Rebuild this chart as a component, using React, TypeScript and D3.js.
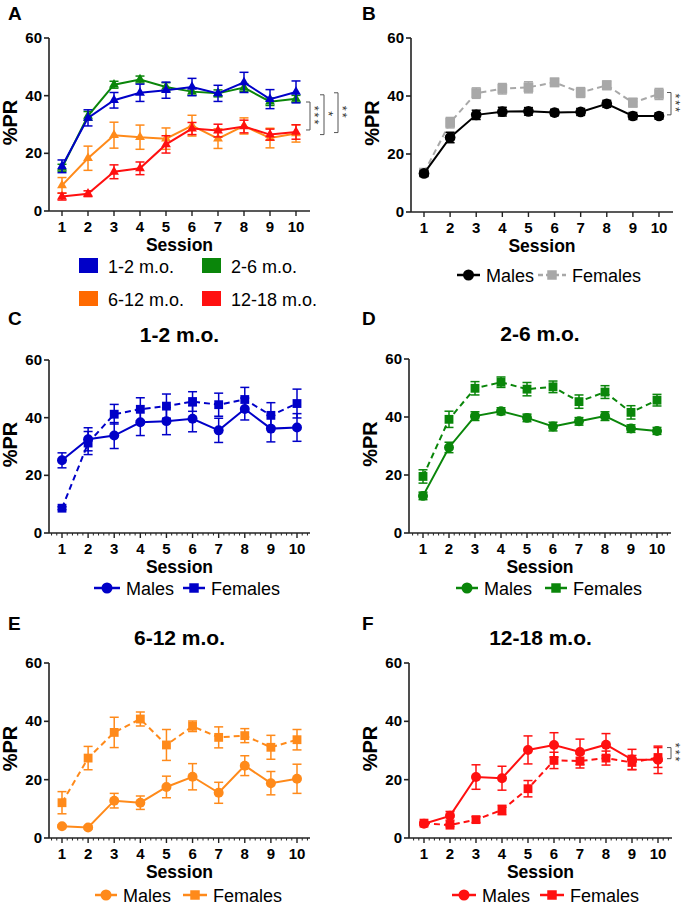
import React from "react";
import * as d3 from "d3";

const sessions = [1, 2, 3, 4, 5, 6, 7, 8, 9, 10];
const yTicks = [0, 20, 40, 60];
const ageGroups = ["1-2 m.o.", "2-6 m.o.", "6-12 m.o.", "12-18 m.o."];
const sexLabels = ["Males", "Females"];

// Panel A: age groups
const age12Mean = [15.5, 32.3, 38.4, 41, 41.9, 43, 40.8, 44.6, 38.8, 41.3];
const age12Sem = [2.2, 2.8, 2.7, 3, 2.8, 3, 2.8, 3.5, 3.3, 3.8];
const age26Mean = [15, 33, 43.8, 45.6, 43, 41.4, 40.8, 42.8, 37.9, 38.9];
const age26Sem = [1.2, 1.5, 1.2, 1.2, 1.5, 1.3, 1.2, 1.3, 1.3, 1.2];
const age612Mean = [8.9, 18.3, 26.3, 25.6, 25.1, 29.6, 25.1, 29.5, 25.3, 26.9];
const age612Sem = [2.7, 4.2, 4.5, 4.2, 3.7, 3.6, 3.4, 2.8, 3.4, 3];
const age1218Mean = [5, 6, 13.6, 14.8, 23.1, 28.6, 27.9, 29.3, 26.5, 27.4];
const age1218Sem = [1.2, 1, 2.4, 2.2, 3, 2.1, 2.2, 2.2, 1.9, 2.5];

// Panel B: all ages by sex
const allMalesMean = [13.3, 25.7, 33.5, 34.6, 34.7, 34.3, 34.5, 37.3, 33.1, 33.1];
const allMalesSem = [1, 1.8, 1.6, 1.5, 1.3, 1.1, 1.2, 1.2, 1.2, 1.1];
const allFemalesMean = [13.6, 30.8, 41, 42.5, 43, 44.7, 41.2, 43.7, 37.7, 40.7];
const allFemalesSem = [1, 1.8, 1.8, 1.8, 1.9, 1.4, 1.7, 1.5, 1.5, 1.9];

// Panel C: 1-2 m.o.
const c12MalesMean = [25.2, 32.5, 33.8, 38.4, 38.8, 39.6, 35.6, 43, 36.2, 36.6];
const c12MalesSem = [2.6, 4, 4.5, 4.6, 4.7, 4.5, 4.2, 3.8, 4.6, 4.8];
const c12FemalesMean = [8.6, 31.2, 41.2, 42.9, 44, 45.6, 44.5, 46.3, 40.8, 44.9];
const c12FemalesSem = [0.5, 4, 3.4, 4, 4.2, 3.4, 4, 4.2, 4.4, 5];

// Panel D: 2-6 m.o.
const c26MalesMean = [12.8, 29.5, 40.3, 42, 39.7, 36.7, 38.5, 40.3, 36, 35.2];
const c26MalesSem = [1.3, 1.8, 1.5, 1.2, 1.3, 1.5, 1.3, 1.5, 1.3, 1.2];
const c26FemalesMean = [19.5, 39.2, 49.9, 52, 49.6, 50.4, 45.3, 48.6, 41.6, 45.8];
const c26FemalesSem = [2.3, 2.8, 2.3, 1.8, 2.3, 2, 2.3, 2.2, 2.3, 2];

// Panel E: 6-12 m.o.
const c612MalesMean = [4, 3.6, 12.8, 12.1, 17.5, 21, 15.5, 24.8, 18.8, 20.3];
const c612MalesSem = [0.4, 0.5, 2.5, 2.3, 3.7, 4.5, 3.6, 3.4, 4, 5];
const c612FemalesMean = [12.1, 27.4, 36.2, 40.8, 31.9, 38.3, 34.5, 35.1, 31.1, 33.7];
const c612FemalesSem = [3.8, 4, 5.2, 2.4, 5.3, 1.8, 3.6, 2.4, 4.1, 3.5];

// Panel F: 12-18 m.o.
const c1218MalesMean = [4.9, 7.6, 20.9, 20.5, 30.2, 31.9, 29.5, 32, 26.9, 26.8];
const c1218MalesSem = [0.5, 1.5, 4.2, 4.1, 4.8, 4.2, 4.4, 3.8, 3.5, 4.7];
const c1218FemalesMean = [5.1, 4.4, 6.3, 9.6, 16.9, 26.6, 26.4, 27.4, 25.9, 27.6];
const c1218FemalesSem = [0.3, 0.5, 1, 1.6, 2.8, 2.8, 2.4, 2.4, 2.4, 3.4];

const FONT = "'Liberation Sans', Arial, Helvetica, sans-serif";
const AXIS = "#222";

const BLUE = "#0000c8";
const GREEN = "#0a860a";
const ORANGE = "#ff8a1a";
const ORANGE_SW = "#ff6a00";
const RED = "#ff1010";
const GRAY = "#a8a8a8";

type Geo = { ax: number; y0: number; y60: number; s1: number; s10: number; xEnd: number };
type Marker = "triangle" | "circle" | "square";
type Series = {
  mean: number[];
  sem: number[];
  color: string;
  marker: Marker;
  size: number;
  dashed?: boolean;
};
type Bracket = { top: number; bottom: number; dx: number; label: string };

const symTypes: Record<Marker, d3.SymbolType> = {
  triangle: d3.symbolTriangle,
  circle: d3.symbolCircle,
  square: d3.symbolSquare,
};

function Panel(props: {
  geo: Geo;
  series: Series[];
  minor?: boolean;
  letter: string;
  letterX: number;
  letterY: number;
  title?: string;
  brackets?: Bracket[];
}) {
  const { geo, series, minor, letter, letterX, letterY, title, brackets } = props;
  const x = d3.scaleLinear().domain([1, 10]).range([geo.s1, geo.s10]);
  const y = d3.scaleLinear().domain([0, 60]).range([geo.y0, geo.y60]);
  const line = d3
    .line<number>()
    .x((_, i) => x(sessions[i]))
    .y((d) => y(d));
  const minorVals: number[] = [];
  if (minor) {
    const lo = Math.ceil(x.invert(geo.ax + 1) / 0.2);
    const hi = Math.floor(x.invert(geo.xEnd) / 0.2);
    for (let k = lo; k <= hi; k++) {
      if (k % 5 !== 0) minorVals.push(k * 0.2);
    }
  }
  const cx = (geo.ax + geo.xEnd) / 2;
  const cy = (geo.y0 + geo.y60) / 2;
  return (
    <g>
      <text x={letterX} y={letterY} fontFamily={FONT} fontWeight="bold" fontSize={19} fill="#000">
        {letter}
      </text>
      {title && (
        <text x={cx} y={geo.y60 - 18} textAnchor="middle" fontFamily={FONT} fontWeight="bold" fontSize={21}>
          {title}
        </text>
      )}
      <line x1={geo.ax} x2={geo.ax} y1={y(0)} y2={y(60)} stroke={AXIS} strokeWidth={1.6} />
      <line x1={geo.ax} x2={geo.xEnd} y1={y(0)} y2={y(0)} stroke={AXIS} strokeWidth={1.6} />
      {yTicks.map((t) => (
        <g key={"y" + t}>
          <line x1={geo.ax - 5} x2={geo.ax} y1={y(t)} y2={y(t)} stroke={AXIS} strokeWidth={1.6} />
          <text
            x={geo.ax - 7}
            y={y(t) + 5}
            textAnchor="end"
            fontFamily={FONT}
            fontWeight="bold"
            fontSize={15}
          >
            {t}
          </text>
        </g>
      ))}
      {sessions.map((s) => (
        <g key={"x" + s}>
          <line x1={x(s)} x2={x(s)} y1={y(0)} y2={y(0) + 5} stroke={AXIS} strokeWidth={1.4} />
          <text x={x(s)} y={y(0) + 21} textAnchor="middle" fontFamily={FONT} fontWeight="bold" fontSize={15}>
            {s}
          </text>
        </g>
      ))}
      {minorVals.map((v, i) => (
        <line key={"m" + i} x1={x(v)} x2={x(v)} y1={y(0)} y2={y(0) + 2.5} stroke={AXIS} strokeWidth={1} />
      ))}
      <text x={cx} y={y(0) + 40} textAnchor="middle" fontFamily={FONT} fontWeight="bold" fontSize={17.5}>
        Session
      </text>
      <text
        transform={`translate(${geo.ax - 32},${cy - 2}) rotate(-90)`}
        textAnchor="middle"
        fontFamily={FONT}
        fontWeight="bold"
        fontSize={20}
      >
        %PR
      </text>
      {series.map((sr, si) => (
        <g key={"s" + si}>
          <path
            d={line(sr.mean) || ""}
            fill="none"
            stroke={sr.color}
            strokeWidth={2}
            strokeDasharray={sr.dashed ? "6,4" : undefined}
          />
          {sr.mean.map((m, i) => {
            const px = x(sessions[i]);
            const top = y(m + sr.sem[i]);
            const bot = y(m - sr.sem[i]);
            return (
              <g key={i}>
                <line x1={px} x2={px} y1={top} y2={bot} stroke={sr.color} strokeWidth={1.5} />
                <line x1={px - 4.5} x2={px + 4.5} y1={top} y2={top} stroke={sr.color} strokeWidth={1.5} />
                <line x1={px - 4.5} x2={px + 4.5} y1={bot} y2={bot} stroke={sr.color} strokeWidth={1.5} />
                <path
                  d={d3.symbol().type(symTypes[sr.marker]).size(sr.size)() || ""}
                  transform={`translate(${px},${y(m)})`}
                  fill={sr.color}
                />
              </g>
            );
          })}
        </g>
      ))}
      {brackets &&
        brackets.map((b, i) => {
          const bx = x(10) + b.dx;
          const t = y(b.top);
          const bt = y(b.bottom);
          const mid = (t + bt) / 2;
          return (
            <g key={"b" + i}>
              <path
                d={`M${bx - 4},${t}H${bx}V${bt}H${bx - 4}`}
                fill="none"
                stroke="#555"
                strokeWidth={1}
              />
              <text
                transform={`translate(${bx - 0.5},${mid}) rotate(90)`}
                textAnchor="middle"
                fontFamily={FONT}
                fontSize={12.5}
                letterSpacing={2}
                fill="#333"
              >
                {b.label}
              </text>
            </g>
          );
        })}
    </g>
  );
}

function LegendItem(props: {
  x: number;
  y: number;
  color: string;
  marker: Marker;
  label: string;
  w: number;
  dashed?: boolean;
}) {
  const { x, y, color, marker, label, w, dashed } = props;
  return (
    <g>
      <line
        x1={x}
        x2={x + w}
        y1={y}
        y2={y}
        stroke={color}
        strokeWidth={2.5}
        strokeDasharray={dashed ? "5,3" : undefined}
      />
      <path
        d={d3.symbol().type(symTypes[marker]).size(marker === "circle" ? 95 : 90)() || ""}
        transform={`translate(${x + w / 2},${y})`}
        fill={color}
      />
      <text x={x + w + 6} y={y + 6.5} fontFamily={FONT} fontSize={18}>
        {label}
      </text>
    </g>
  );
}

export default function App() {
  const geoA: Geo = { ax: 49, y0: 211, y60: 38, s1: 62, s10: 296, xEnd: 310 };
  const geoB: Geo = { ax: 411, y0: 212, y60: 38, s1: 424, s10: 659, xEnd: 673 };
  const geoC: Geo = { ax: 49, y0: 533, y60: 360, s1: 62, s10: 297, xEnd: 310 };
  const geoD: Geo = { ax: 409, y0: 533, y60: 359, s1: 423, s10: 657, xEnd: 671 };
  const geoE: Geo = { ax: 49, y0: 838, y60: 663, s1: 62, s10: 297, xEnd: 310 };
  const geoF: Geo = { ax: 409, y0: 838, y60: 663, s1: 424, s10: 658, xEnd: 672 };

  const tri = 42;
  const circ = 78;
  const sq = 78;

  const swatches = [
    { x: 79, y: 258, color: BLUE, label: ageGroups[0] },
    { x: 202, y: 258, color: GREEN, label: ageGroups[1] },
    { x: 79, y: 291, color: ORANGE_SW, label: ageGroups[2] },
    { x: 202, y: 291, color: RED, label: ageGroups[3] },
  ];

  return (
    <svg
      width={685}
      height={906}
      style={{ position: "absolute", left: 0, top: 0, background: "#fff" }}
    >
      <rect width={685} height={906} fill="#fff" />
      <Panel
        geo={geoA}
        letter="A"
        letterX={8}
        letterY={20}
        series={[
          { mean: age26Mean, sem: age26Sem, color: GREEN, marker: "triangle", size: tri },
          { mean: age12Mean, sem: age12Sem, color: BLUE, marker: "triangle", size: tri },
          { mean: age612Mean, sem: age612Sem, color: ORANGE, marker: "triangle", size: tri },
          { mean: age1218Mean, sem: age1218Sem, color: RED, marker: "triangle", size: tri },
        ]}
        brackets={[
          { top: 37.8, bottom: 28.1, dx: 14, label: "***" },
          { top: 40.3, bottom: 26.5, dx: 28, label: "*" },
          { top: 41, bottom: 27.2, dx: 42, label: "**" },
        ]}
      />
      {swatches.map((s, i) => (
        <g key={i}>
          <rect x={s.x} y={s.y} width={19} height={15} fill={s.color} />
          <text x={s.x + 29} y={s.y + 15} fontFamily={FONT} fontSize={18}>
            {s.label}
          </text>
        </g>
      ))}

      <Panel
        geo={geoB}
        letter="B"
        letterX={362}
        letterY={20}
        series={[
          { mean: allFemalesMean, sem: allFemalesSem, color: GRAY, marker: "square", size: 95, dashed: true },
          { mean: allMalesMean, sem: allMalesSem, color: "#000", marker: "circle", size: 90 },
        ]}
        brackets={[{ top: 41.2, bottom: 33.5, dx: 12, label: "***" }]}
      />
      <LegendItem x={457} y={275} color="#000" marker="circle" label={sexLabels[0]} w={23} />
      <LegendItem x={538} y={275} color={GRAY} marker="square" label={sexLabels[1]} w={28} dashed />

      <Panel
        geo={geoC}
        letter="C"
        letterX={8}
        letterY={325}
        title={ageGroups[0]}
        minor
        series={[
          { mean: c12FemalesMean, sem: c12FemalesSem, color: BLUE, marker: "square", size: sq, dashed: true },
          { mean: c12MalesMean, sem: c12MalesSem, color: BLUE, marker: "circle", size: circ },
        ]}
      />
      <LegendItem x={94} y={588} color={BLUE} marker="circle" label={sexLabels[0]} w={26} />
      <LegendItem x={183} y={588} color={BLUE} marker="square" label={sexLabels[1]} w={22} />

      <Panel
        geo={geoD}
        letter="D"
        letterX={362}
        letterY={325}
        title={ageGroups[1]}
        minor
        series={[
          { mean: c26FemalesMean, sem: c26FemalesSem, color: GREEN, marker: "square", size: sq, dashed: true },
          { mean: c26MalesMean, sem: c26MalesSem, color: GREEN, marker: "circle", size: circ },
        ]}
      />
      <LegendItem x={456} y={588} color={GREEN} marker="circle" label={sexLabels[0]} w={22} />
      <LegendItem x={545} y={588} color={GREEN} marker="square" label={sexLabels[1]} w={22} />

      <Panel
        geo={geoE}
        letter="E"
        letterX={8}
        letterY={630}
        title={ageGroups[2]}
        minor
        series={[
          { mean: c612FemalesMean, sem: c612FemalesSem, color: ORANGE, marker: "square", size: sq, dashed: true },
          { mean: c612MalesMean, sem: c612MalesSem, color: ORANGE, marker: "circle", size: circ },
        ]}
      />
      <LegendItem x={95} y={895} color={ORANGE} marker="circle" label={sexLabels[0]} w={22} />
      <LegendItem x={183} y={895} color={ORANGE} marker="square" label={sexLabels[1]} w={24} />

      <Panel
        geo={geoF}
        letter="F"
        letterX={362}
        letterY={630}
        title={ageGroups[3]}
        minor
        series={[
          { mean: c1218FemalesMean, sem: c1218FemalesSem, color: RED, marker: "square", size: sq, dashed: true },
          { mean: c1218MalesMean, sem: c1218MalesSem, color: RED, marker: "circle", size: circ },
        ]}
        brackets={[{ top: 31, bottom: 27.2, dx: 13, label: "***" }]}
      />
      <LegendItem x={452} y={895} color={RED} marker="circle" label={sexLabels[0]} w={24} />
      <LegendItem x={540} y={895} color={RED} marker="square" label={sexLabels[1]} w={24} />
    </svg>
  );
}
